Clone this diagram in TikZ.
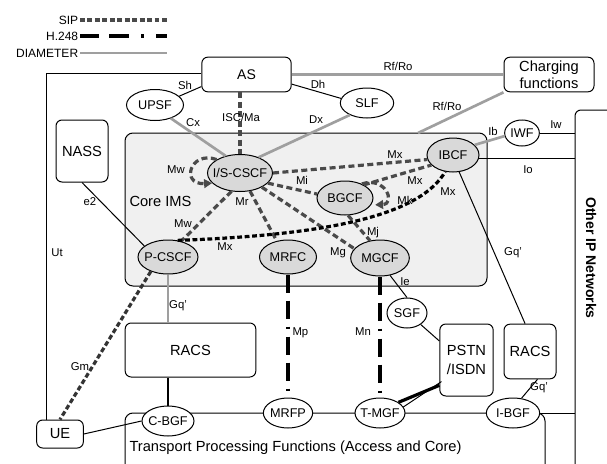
\documentclass[tikz,border=0pt]{standalone}
\usepackage{fontspec}
\setmainfont{Liberation Sans}
\usetikzlibrary{arrows.meta,shapes.geometric}

\definecolor{coregray}{HTML}{F0F0F0}
\definecolor{nodegray}{HTML}{D9D9D9}
\definecolor{sipgray}{HTML}{4A4A4A}
\definecolor{diamgray}{HTML}{9F9F9F}

\tikzset{every picture/.style={line width=0.75pt}}
\tikzset{
  box/.style={draw, rounded corners=4.5pt, align=center, inner sep=0pt, font=\fontsize{11}{14}\selectfont},
  fn/.style={draw, ellipse, fill=nodegray, inner xsep=-4pt, inner ysep=0pt, font=\fontsize{9.5}{11}\selectfont},
  fnw/.style={fn, fill=white},
  lbl/.style={inner sep=0.75pt, font=\fontsize{8.5}{10}\selectfont},
  lgd/.style={inner sep=1pt, anchor=east, font=\fontsize{9}{10}\selectfont},
  sip/.style={draw=sipgray, line width=2.4pt, dash pattern=on 4.5pt off 2.6pt},
  sipblk/.style={draw=black, line width=2.4pt, dash pattern=on 3.6pt off 2pt},
  hcmd/.style={draw=black, line width=2.6pt, dash pattern=on 13.5pt off 6pt on 13.5pt off 6pt on 1.5pt off 6pt},
  diam/.style={draw=diamgray, line width=2pt},
  loopend/.style={-{Triangle[length=6pt,width=6.5pt]}},
}

\begin{document}
\begin{tikzpicture}[x=0.75pt,y=0.75pt,yscale=-1,xscale=1]
\useasboundingbox (0,0) rectangle (607,464);
\clip (0,0) rectangle (607,464);

% Legend
\coordinate (lgdend) at (167,0);
\node[lgd] (lsip) at (80,20) {SIP};
\node[lgd] (lh248) at (80,36) {H.248};
\node[lgd] (ldiam) at (80,53) {DIAMETER};
\draw[sipblk, draw=sipgray] (lsip.east) -- (lsip.east -| lgdend);
\draw[hcmd, dash pattern=on 14pt off 8pt on 15pt off 9pt on 2pt off 9pt] (lh248.east) -- (lh248.east -| lgdend);
\draw[diam] (ldiam.east) -- (ldiam.east -| lgdend);

% Core IMS box
\draw[fill=coregray, rounded corners=6pt] (125,133) rectangle (487,286);
% Transport box
\draw[rounded corners=6pt] (125,413) rectangle (545,500);

% Boxes
\node[box, minimum width=67pt, minimum height=26pt, font=\fontsize{10.5}{12}\selectfont] (as) at (246.5,74.5) {AS};
\node[box, minimum width=67.5pt, minimum height=26pt, font=\fontsize{11}{12.5}\selectfont] (charging) at (549,74.5) {Charging\\functions};
\node[box, minimum width=39pt, minimum height=46.5pt] (nass) at (82,151) {NASS};
\node[box, minimum width=40pt, minimum height=54pt] (pstn) at (466.5,360) {PSTN\\/ISDN};
\node[box, minimum width=39pt, minimum height=41pt] (racsr) at (530,351.5) {RACS};
\node[box, minimum width=98pt, minimum height=40.5pt] (racsl) at (190.5,350) {RACS};
\node[box, minimum width=35pt, minimum height=21pt] (ue) at (60,434) {UE};
\node[box, minimum width=52.5pt, minimum height=285pt] (oipn) at (610,300) {};
\node[rotate=-90, font=\fontsize{10.5}{12}\selectfont\bfseries] (oiptext) at (591,258) {Other IP Networks};

% Functions
\node[fnw, minimum width=42.75pt, minimum height=23.25pt] (upsf) at (155,105) {UPSF};
\node[fnw, minimum width=40pt, minimum height=22.5pt] (slf) at (367,103) {SLF};
\node[fn, minimum width=48.75pt, minimum height=27.75pt] (iscscf) at (240,173) {I/S-CSCF};
\node[fn, minimum width=39pt, minimum height=25.5pt] (ibcf) at (453,155) {IBCF};
\node[fn, minimum width=42pt, minimum height=25.5pt] (bgcf) at (345,198) {BGCF};
\node[fn, minimum width=45pt, minimum height=25.5pt] (pcscf) at (168,257) {P-CSCF};
\node[fn, minimum width=42.75pt, minimum height=25.5pt] (mrfc) at (288,257) {MRFC};
\node[fn, minimum width=44pt, minimum height=27pt] (mgcf) at (380,258) {MGCF};
\node[fnw, minimum width=26pt, minimum height=19.5pt] (iwf) at (522,133) {IWF};
\node[fnw, minimum width=30pt, minimum height=22.5pt] (sgf) at (407,313) {SGF};
\node[fnw, minimum width=39pt, minimum height=22.5pt] (cbgf) at (168,421) {C-BGF};
\node[fnw, minimum width=37pt, minimum height=22.5pt] (mrfp) at (288,413) {MRFP};
\node[fnw, minimum width=37.5pt, minimum height=22.5pt] (tmgf) at (380,413) {T-MGF};
\node[fnw, minimum width=40pt, minimum height=22.5pt] (ibgf) at (513,413) {I-BGF};

% Plain links
\coordinate (utcorner) at (46,73);
\draw (utcorner |- ue.north) -- (utcorner) -- (as.west |- utcorner);
\draw (upsf.20) -- (as.-165);
\draw (as.-12) -- (slf.170);
\draw (nass.south) -- (pcscf.155);
\draw (iwf.east) -- (iwf.east -| oipn.west);
\draw (ibcf.-8) -- (ibcf.-8 -| oipn.west);
\draw (ibcf.-70) -- (racsr.100);
\draw (racsr.-75) -- (ibgf.60);
\draw (ibgf.east) -- (ibgf.east -| oipn.west);
\draw (mgcf.-60) -- (sgf.north);
\draw (sgf.-40) -- (pstn.145);
\draw (ue.east) -- (cbgf.west);
\draw[line width=2.2pt] (cbgf.north |- racsl.south) -- (cbgf.north);
\draw[line width=2.4pt] (tmgf.30) -- (pstn.-137);
\draw[transform canvas={xshift=1.6pt,yshift=-1.9pt}] (tmgf.22) -- (pstn.-145);

% DIAMETER links
\coordinate (rfro) at (418,133);
\draw[diam] (as.east) -- (charging.west);
\draw[diam] (charging.south west) -- (rfro);
\draw[diam] (upsf.-40) -- (iscscf.130);
\draw[diam] (slf.-145) -- (iscscf.40);
\draw[diam] (pcscf.south) -- (pcscf.south |- racsl.north);
\draw[diam] (ibcf.25) -- (iwf.190);

% SIP links
\draw[sip] (iscscf.north |- as.south) -- (iscscf.north);
\draw[sip] (iscscf.east) -- (ibcf.190);
\draw[sip] (iscscf.-20) -- (bgcf.172);
\draw[sip] (bgcf.35) -- (ibcf.205);
\draw[sip] (iscscf.-33) -- (mgcf.160);
\draw[sip] (iscscf.-61) -- (mrfc.125);
\draw[sip] (iscscf.-115) -- (pcscf.50);
\draw[sip] (bgcf.-80) -- (mgcf.120);
\draw[sip, loopend] (iscscf.150) .. controls (190,150) and (180,185) .. (iscscf.200);
\draw[sip, loopend, shorten >=3pt] (bgcf.40) .. controls (386,176) and (396,204) .. (bgcf.-15);
\draw[sipblk] (pcscf.60) .. controls (330,235) and (420,215) .. (ibcf.-115);
\draw[sipblk, draw=sipgray!70!black] (pcscf.-140) -- (ue.north);

% H.248 links
\draw[hcmd] (mrfc.south) -- (mrfp.north);
\draw[hcmd] (mgcf.south) -- (tmgf.north);

% Text Node
\node[lbl] (lsh) at (185,85) {Sh};
\node[lbl] (lcx) at (193,123) {Cx};
\node[lbl] (lisc) at (241,117) {ISC/Ma};
\node[lbl] (ldh) at (318,84) {Dh};
\node[lbl] (lrfa) at (398,66) {Rf/Ro};
\node[lbl] (ldx) at (316,120) {Dx};
\node[lbl] (lrfb) at (447,106) {Rf/Ro};
\node[lbl] (lib) at (493,131) {Ib};
\node[lbl] (liw) at (556,125) {Iw};
\node[lbl] (lio) at (528,170) {Io};
\node[lbl] (le2) at (90,202) {e2};
\node[lbl] (lut) at (57,253) {Ut};
\node[lbl] (lmwa) at (176,170) {Mw};
\node[lbl] (lmwb) at (183,224) {Mw};
\node[lbl] (lmr) at (242,202) {Mr};
\node[lbl] (lmi) at (302,180) {Mi};
\node[lbl] (lmxa) at (395,155) {Mx};
\node[lbl] (lmxb) at (415,181) {Mx};
\node[lbl] (lmk) at (405,200) {Mk};
\node[lbl] (lmxc) at (448,192) {Mx};
\node[lbl] (lmj) at (373,233) {Mj};
\node[lbl] (lmg) at (338,253) {Mg};
\node[lbl] (lmxd) at (225,247) {Mx};
\node[lbl] (lgqa) at (513,253) {Gq'};
\node[lbl] (lie) at (405,282) {Ie};
\node[lbl] (lgqb) at (178,306) {Gq'};
\node[lbl, anchor=west] (lmp) at (291,333) {Mp};
\node[lbl] (lmn) at (363,332) {Mn};
\node[lbl] (lgm) at (80,367) {Gm};
\node[lbl] (lgqc) at (539,388) {Gq'};
\node[anchor=west, inner sep=0pt, font=\fontsize{11}{13}\selectfont] (lcore) at (129,201) {Core IMS};
\node[anchor=west, inner sep=0pt, font=\fontsize{11}{13}\selectfont] (ltpf) at (129,448) {Transport Processing Functions (Access and Core)};

\end{tikzpicture}
\end{document}
